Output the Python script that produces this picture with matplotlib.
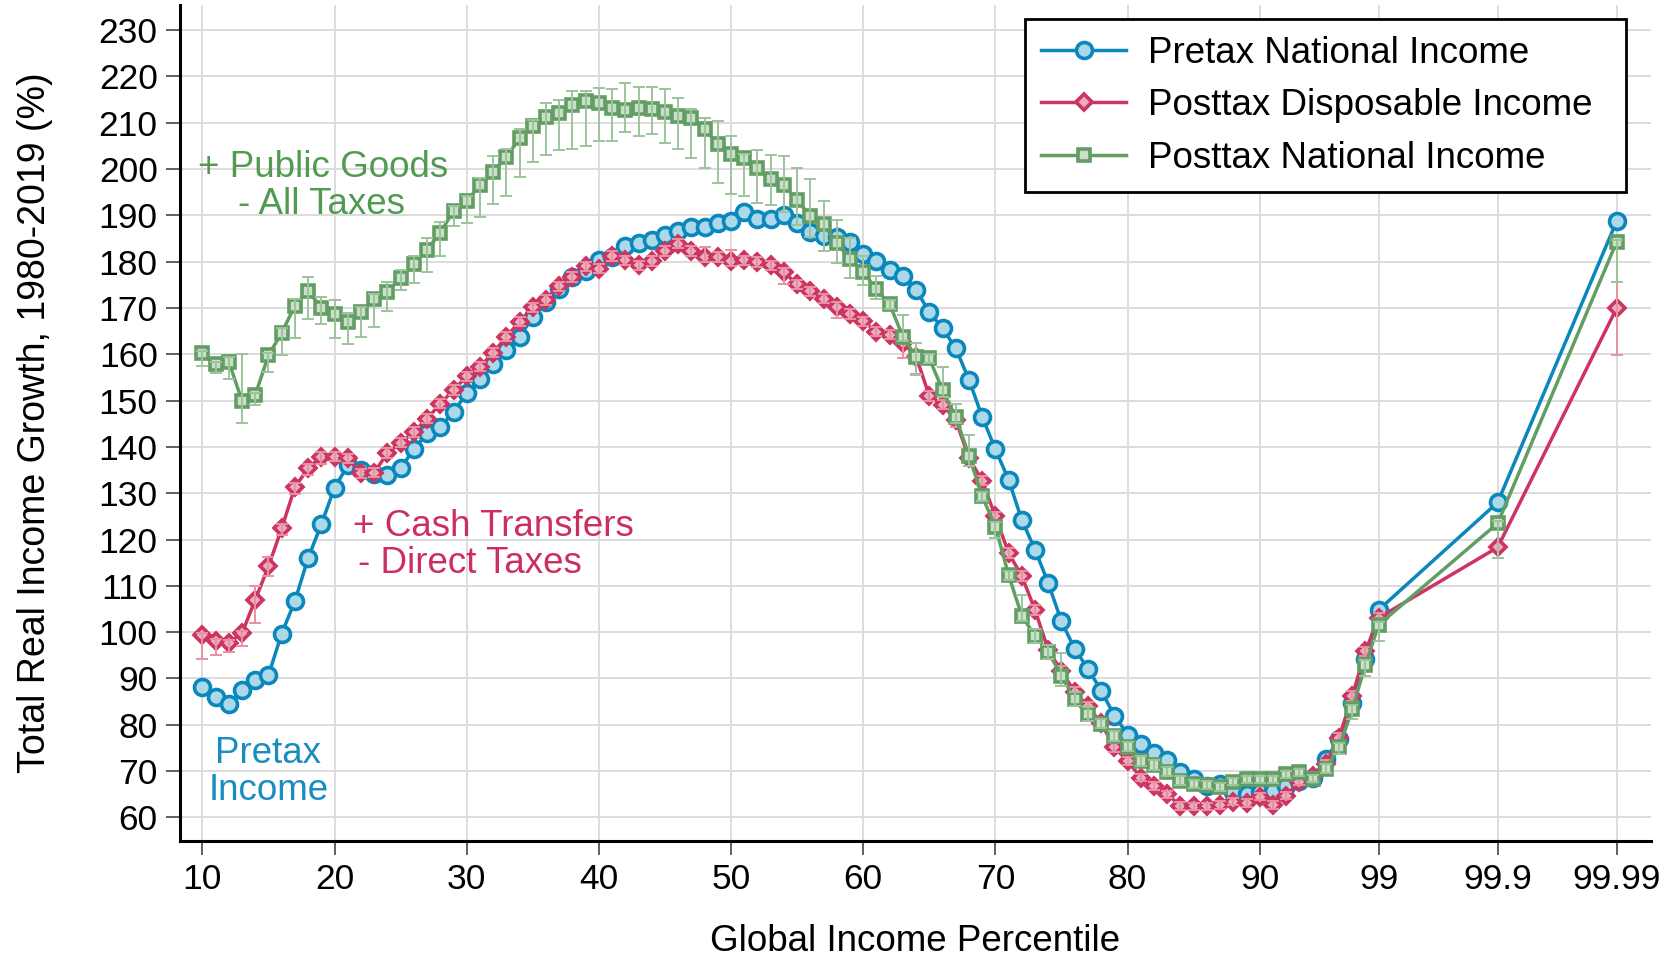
import matplotlib
matplotlib.use("Agg")
import matplotlib.pyplot as plt
import numpy as np

plt.rcParams["font.family"] = ["Liberation Sans", "DejaVu Sans"]

# percentiles 10..99, then 99.9 and 99.99
percentiles = list(range(10, 100)) + [99.9, 99.99]

pretax = [
    88.1, 85.9, 84.4, 87.5, 89.7, 90.7, 99.7, 106.7, 116.0, 123.3,
    131.2, 136.0, 135.0, 134.1, 133.9, 135.4, 139.5, 142.9, 144.3, 147.5,
    151.6, 154.7, 157.9, 160.9, 163.8, 168.0, 171.2, 174.1, 176.7, 177.9,
    180.3, 180.9, 183.4, 184.0, 184.6, 185.7, 186.6, 187.5, 187.4, 188.4,
    188.7, 190.6, 189.2, 189.3, 190.0, 188.3, 186.3, 185.5, 185.4, 184.2,
    181.7, 180.2, 178.1, 176.8, 173.9, 169.1, 165.6, 161.3, 154.5, 146.5,
    139.5, 132.9, 124.2, 117.8, 110.6, 102.3, 96.4, 92.1, 87.4, 82.0,
    77.9, 75.9, 74.0, 72.3, 69.7, 68.2, 66.8, 67.2, 65.4, 65.0,
    65.4, 65.7, 66.8, 67.9, 68.6, 72.6, 76.9, 84.7, 94.1, 104.8,
    128.0, 188.7]

posttaxDisp = [
    99.3, 98.0, 97.7, 99.8, 107.0, 114.2, 122.4, 131.3, 135.4, 137.9,
    137.9, 137.5, 134.3, 134.4, 138.7, 140.9, 143.2, 146.1, 149.3, 152.3,
    155.2, 157.3, 160.3, 163.8, 167.0, 170.1, 171.7, 174.7, 176.7, 179.0,
    178.5, 181.2, 180.3, 179.2, 180.1, 182.3, 183.9, 182.3, 181.0, 181.0,
    180.1, 180.3, 179.9, 179.2, 177.7, 175.1, 173.6, 172.0, 170.3, 168.7,
    167.1, 164.9, 164.2, 162.5, 159.5, 151.0, 149.1, 145.8, 137.6, 132.7,
    125.0, 117.1, 112.1, 104.8, 96.1, 91.6, 87.1, 84.0, 80.4, 75.1,
    72.2, 68.6, 66.8, 65.0, 62.5, 62.4, 62.4, 62.7, 63.4, 63.1,
    64.5, 62.7, 64.7, 67.7, 69.0, 71.5, 77.2, 86.2, 95.9, 103.1,
    118.3, 169.9]

posttaxNat = [
    160.3, 157.9, 158.4, 149.9, 151.2, 159.8, 164.6, 170.5, 173.7, 170.0,
    168.6, 167.0, 169.2, 172.0, 173.5, 176.5, 179.5, 182.6, 186.2, 191.0,
    193.1, 196.5, 199.4, 202.6, 206.6, 209.2, 211.2, 212.0, 213.8, 214.6,
    214.3, 213.2, 212.8, 213.2, 212.9, 212.2, 211.5, 210.9, 208.7, 205.3,
    203.2, 202.3, 200.1, 197.9, 196.5, 193.2, 189.9, 188.1, 184.0, 180.6,
    177.8, 174.0, 170.8, 163.8, 159.4, 159.1, 152.3, 146.5, 138.1, 129.3,
    122.8, 112.3, 103.5, 99.2, 95.7, 90.6, 85.5, 82.4, 80.2, 77.6,
    75.3, 72.2, 71.3, 69.9, 67.9, 67.2, 67.0, 66.6, 67.7, 68.2,
    68.2, 68.2, 69.3, 69.7, 68.4, 70.5, 75.1, 83.3, 93.0, 101.6,
    123.5, 184.2]

# confidence bands (below / above the point)
natErrLo = [
    2.9, 2.0, 3.8, 4.8, 2.2, 3.6, 4.8, 7.1, 6.1, 3.4,
    5.1, 4.7, 5.5, 6.1, 4.2, 2.6, 4.2, 4.8, 5.0, 3.3,
    4.7, 6.8, 7.0, 8.5, 8.3, 7.7, 8.1, 7.8, 9.4, 9.7,
    8.2, 7.1, 4.8, 6.1, 5.4, 6.6, 7.1, 8.6, 8.6, 8.3,
    8.5, 8.2, 7.5, 5.7, 5.7, 5.3, 4.5, 5.9, 4.4, 4.2,
    2.8, 2.0, 1.0, 1.0, 3.9, 1.0, 1.5, 1.4, 2.3, 1.0,
    2.5, 1.0, 1.0, 1.5, 1.5, 2.3, 1.5, 1.5, 1.0, 1.0,
    1.0, 1.0, 1.0, 1.0, 1.0, 0.8, 0.8, 0.8, 0.8, 0.8,
    0.8, 0.8, 0.8, 0.8, 0.8, 1.0, 1.5, 2.0, 2.5, 3.6,
    7.6, 8.5]
natErrHi = [
    0.5, 0.5, 1.0, 10.2, 0.5, 0.5, 1.0, 1.5, 2.9, 2.3,
    3.2, 1.9, 1.0, 1.0, 2.1, 1.6, 1.6, 2.5, 2.3, 1.0,
    1.0, 1.5, 3.4, 1.8, 2.0, 1.3, 3.1, 2.8, 3.0, 2.2,
    3.2, 4.0, 5.8, 4.5, 4.9, 5.1, 3.8, 2.0, 2.2, 5.1,
    3.9, 1.0, 4.1, 5.2, 6.3, 6.9, 7.9, 5.0, 5.0, 4.5,
    3.3, 2.9, 1.0, 4.7, 3.1, 1.0, 4.9, 2.8, 4.5, 1.0,
    1.0, 1.0, 4.6, 1.5, 1.5, 5.0, 1.5, 1.5, 1.0, 1.0,
    1.0, 1.0, 1.0, 1.0, 1.0, 0.8, 0.8, 0.8, 0.8, 0.8,
    0.8, 0.8, 0.8, 0.8, 0.8, 1.0, 1.0, 1.0, 1.0, 0.5,
    0.5, 0.5]
dispErrLo = [
    5.1, 3.0, 2.0, 2.8, 5.0, 2.0, 1.5, 1.5, 1.5, 1.5,
    1.0, 1.0, 1.0, 1.0, 1.0, 1.0, 1.0, 1.0, 1.0, 1.0,
    1.0, 1.0, 1.0, 1.0, 1.0, 1.0, 1.0, 1.0, 1.0, 1.0,
    1.0, 1.0, 1.0, 1.0, 1.0, 1.0, 1.0, 1.0, 1.0, 1.0,
    1.0, 1.0, 1.0, 1.0, 2.5, 1.0, 1.0, 1.0, 2.5, 1.0,
    1.0, 1.0, 1.0, 3.4, 3.7, 1.0, 1.0, 1.5, 1.8, 1.0,
    1.0, 1.0, 1.0, 1.0, 1.0, 1.0, 1.0, 1.0, 1.0, 1.0,
    0.8, 0.8, 0.8, 0.8, 0.8, 0.8, 0.8, 0.8, 0.8, 0.8,
    0.8, 0.8, 0.8, 0.8, 0.8, 1.0, 1.0, 1.0, 1.0, 1.0,
    2.4, 10.0]
dispErrHi = [
    0.5, 0.5, 0.5, 0.5, 3.0, 2.0, 1.0, 1.0, 1.0, 1.0,
    1.0, 1.0, 1.0, 1.0, 1.0, 1.0, 1.0, 1.0, 1.0, 1.0,
    1.0, 1.0, 1.0, 1.0, 1.0, 1.0, 1.0, 1.0, 1.0, 1.0,
    1.0, 1.0, 1.0, 1.0, 1.0, 1.0, 1.0, 1.0, 2.2, 1.0,
    2.4, 1.0, 1.0, 1.0, 1.0, 1.0, 1.0, 1.0, 1.0, 1.0,
    1.0, 1.0, 1.0, 1.0, 1.0, 1.0, 1.0, 1.0, 1.0, 1.0,
    1.0, 1.0, 1.0, 1.0, 1.0, 1.0, 1.0, 1.0, 1.0, 1.0,
    0.8, 0.8, 0.8, 0.8, 0.8, 0.8, 0.8, 0.8, 0.8, 0.8,
    0.8, 0.8, 0.8, 0.8, 0.8, 1.0, 1.0, 1.0, 1.0, 1.0,
    3.9, 15.4]

tickPercentiles = [10, 20, 30, 40, 50, 60, 70, 80, 90, 99, 99.9, 99.99]
tickLabels = ["10", "20", "30", "40", "50", "60", "70", "80", "90", "99", "99.9", "99.99"]


def toPos(p):
    # top percentiles are spread out on the axis
    if p == 99.9:
        return 108
    if p == 99.99:
        return 117
    return p


x = np.array([toPos(p) for p in percentiles])

blue = "#0A87BC"
blueFace = "#ABD9EA"
red = "#CD3462"
redFace = "#E9AFC0"
redErr = "#E9929F"
green = "#629E63"
greenFace = "#C9DFC8"
greenErr = "#9CC49C"

fig = plt.figure(figsize=(16.8, 9.59), dpi=100)
ax = fig.add_axes([0.1071, 0.1230, 0.8756, 0.8718])

ax.plot(x, pretax, color=blue, lw=2.5, marker="o", ms=11.5, mfc=blueFace,
        mec=blue, mew=2.6, zorder=3, label="Pretax National Income")

ax.plot(x, posttaxDisp, color=red, lw=2.5, marker="D", ms=8.5, mfc=redFace,
        mec=red, mew=2.6, zorder=4, label="Posttax Disposable Income")
ax.errorbar(x, posttaxDisp, yerr=[dispErrLo, dispErrHi], fmt="none",
            ecolor=redErr, elinewidth=1.4, capsize=4, capthick=1.4, zorder=4.5)

ax.plot(x, posttaxNat, color=green, lw=2.5, marker="s", ms=9, mfc=greenFace,
        mec=green, mew=2.6, zorder=5, label="Posttax National Income")
ax.errorbar(x, posttaxNat, yerr=[natErrLo, natErrHi], fmt="none",
            ecolor=greenErr, elinewidth=1.4, capsize=4, capthick=1.4, zorder=5.5)

# annotations
ax.text(19.1, 200.3, "+ Public Goods", color="#509A52", fontsize=26.5,
        ha="center", va="center")
ax.text(19.0, 192.3, "- All Taxes", color="#509A52", fontsize=26.5,
        ha="center", va="center")
ax.text(21.4, 122.9, "+ Cash Transfers", color="#CC2F5E", fontsize=26.5,
        ha="left", va="center")
ax.text(21.8, 114.8, "- Direct Taxes", color="#CC2F5E", fontsize=26.5,
        ha="left", va="center")
ax.text(15.0, 73.9, "Pretax", color="#1A8DC0", fontsize=26.5,
        ha="center", va="center")
ax.text(15.0, 65.8, "Income", color="#1A8DC0", fontsize=26.5,
        ha="center", va="center")

ax.set_xlim(8.3, 119.6)
ax.set_ylim(54.9, 235.4)
ax.set_xticks([toPos(p) for p in tickPercentiles])
ax.set_xticklabels(tickLabels)
ax.set_yticks(np.arange(60, 231, 10))

ax.grid(True, color="#DCDCDC", lw=1.4)
ax.set_axisbelow(True)
for s in ["top", "right"]:
    ax.spines[s].set_visible(False)
for s in ["left", "bottom"]:
    ax.spines[s].set_linewidth(2.2)
    ax.spines[s].set_color("black")

ax.tick_params(axis="both", labelsize=25.5, length=10, width=1.2,
               color="#444444", pad=6)

ax.set_xlabel("Global Income Percentile", fontsize=26.5, labelpad=20)
ax.set_ylabel("Total Real Income Growth, 1980-2019 (%)", fontsize=27, labelpad=33)

leg = ax.legend(loc="upper left", bbox_to_anchor=(0.5744, 0.7775, 0.4086, 0.2058),
                mode="expand", borderaxespad=0,
                fontsize=26.5, frameon=True, fancybox=False, framealpha=1,
                edgecolor="black", handlelength=2.3, handletextpad=0.6,
                labelspacing=0.48, borderpad=0.45)
leg.get_frame().set_linewidth(2)

fig.savefig("out.png", dpi=100)
